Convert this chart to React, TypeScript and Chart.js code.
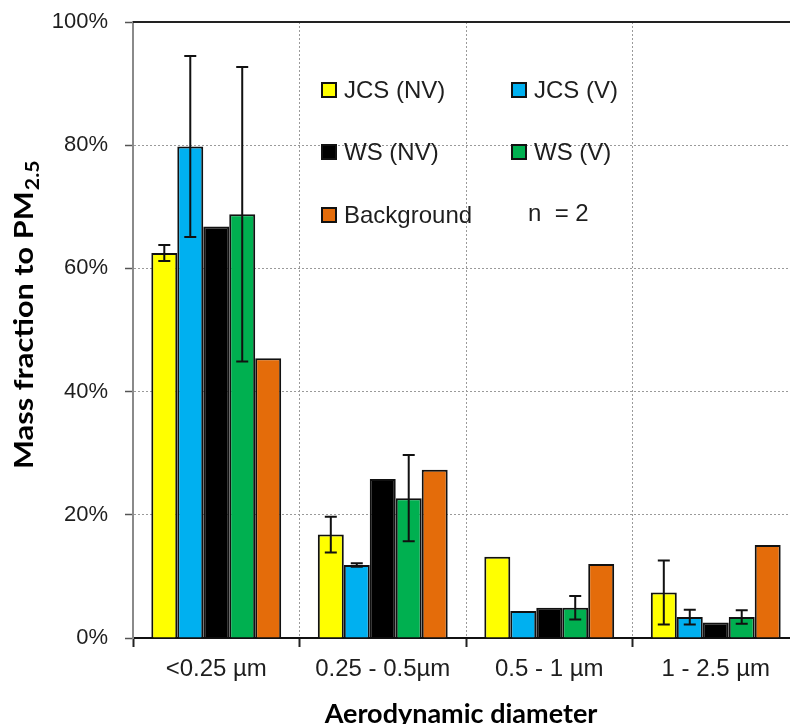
import React, { useEffect, useRef } from 'react';
import { Chart, registerables } from 'chart.js';

Chart.register(...registerables);

// Size classes on the x axis
const categories = ['<0.25 µm', '0.25 - 0.5µm', '0.5 - 1 µm', '1 - 2.5 µm'];

// Mass fraction (%) per site, with ± error where measured
const jcsNV = [62.5, 16.8, 13.2, 7.4];
const jcsNVErr = [1.3, 2.9, 0, 5.2];
const jcsV = [79.8, 11.85, 4.4, 3.4];
const jcsVErr = [14.7, 0.3, 0, 1.2];
const wsNV = [66.8, 25.8, 4.9, 2.5];
const wsNVErr = [0, 0, 0, 0];
const wsV = [68.8, 22.7, 4.9, 3.4];
const wsVErr = [23.9, 7.0, 1.9, 1.1];
const background = [45.4, 27.3, 12.0, 15.1];
const backgroundErr = [0, 0, 0, 0];

const seriesNames = ['JCS (NV)', 'JCS (V)', 'WS (NV)', 'WS (V)', 'Background'];
const seriesColors = ['#FFFF00', '#00B0F0', '#000000', '#00B050', '#E46C0A'];
const seriesValues = [jcsNV, jcsV, wsNV, wsV, background];
const seriesErrors = [jcsNVErr, jcsVErr, wsNVErr, wsVErr, backgroundErr];

const sampleNote = 'n  = 2';
const yTitleMain = 'Mass fraction to PM';
const yTitleSub = '2.5';
const xTitle = 'Aerodynamic diameter';

const TEXT = '#1e1e1e';
const SANS = '"Liberation Sans", Arial, sans-serif';
const TITLE_FONT = 'Lato, "Open Sans", sans-serif';

// Whiskers drawn on top of each bar from its value ± error
const errorBars = {
  id: 'errorBars',
  afterDatasetsDraw(chart: any) {
    const { ctx } = chart;
    const y = chart.scales.y;
    chart.data.datasets.forEach((ds: any, i: number) => {
      const meta = chart.getDatasetMeta(i);
      const errs: number[] = ds.errors || [];
      meta.data.forEach((bar: any, j: number) => {
        const e = errs[j];
        if (!e) return;
        const v = ds.data[j];
        const top = y.getPixelForValue(v + e);
        const bot = y.getPixelForValue(v - e);
        const x = bar.x;
        ctx.save();
        ctx.strokeStyle = '#111';
        ctx.lineWidth = 2;
        ctx.beginPath();
        ctx.moveTo(x, top);
        ctx.lineTo(x, bot);
        ctx.moveTo(x - 6, top);
        ctx.lineTo(x + 6, top);
        ctx.moveTo(x - 6, bot);
        ctx.lineTo(x + 6, bot);
        ctx.stroke();
        ctx.restore();
      });
    });
  },
};

// Frame line, in-plot legend, note and axis titles
const decorations = {
  id: 'decorations',
  afterDraw(chart: any) {
    const { ctx, chartArea } = chart;
    ctx.save();

    // top frame line
    ctx.strokeStyle = '#222';
    ctx.lineWidth = 2;
    ctx.beginPath();
    ctx.moveTo(chartArea.left, chartArea.top);
    ctx.lineTo(chartArea.right, chartArea.top);
    ctx.stroke();

    // legend in two columns
    const cells = [
      [322, 90],
      [512, 90],
      [322, 152],
      [512, 152],
      [322, 215],
    ];
    ctx.font = `24px ${SANS}`;
    ctx.textBaseline = 'middle';
    ctx.textAlign = 'left';
    chart.data.datasets.forEach((ds: any, i: number) => {
      const [bx, by] = cells[i];
      ctx.fillStyle = ds.backgroundColor;
      ctx.fillRect(bx, by - 7, 14, 14);
      ctx.strokeStyle = '#111';
      ctx.lineWidth = 2;
      ctx.strokeRect(bx, by - 7, 14, 14);
      ctx.fillStyle = TEXT;
      ctx.fillText(ds.label, bx + 22, by + 1);
    });
    ctx.fillText(sampleNote, 528, 214);

    // y title with subscript, slightly stretched along its length
    ctx.fillStyle = '#000';
    ctx.translate(33, 469);
    ctx.rotate(-Math.PI / 2);
    ctx.scale(1.18, 1);
    ctx.textBaseline = 'alphabetic';
    ctx.font = `bold 26px ${TITLE_FONT}`;
    ctx.fillText(yTitleMain, 0, 0);
    const w = ctx.measureText(yTitleMain).width;
    ctx.font = `bold 18px ${TITLE_FONT}`;
    ctx.fillText(yTitleSub, w + 1, 6);
    ctx.setTransform(1, 0, 0, 1, 0, 0);

    // x title
    ctx.font = `bold 27px ${TITLE_FONT}`;
    ctx.textAlign = 'center';
    ctx.fillText(xTitle, 461, 723);
    ctx.restore();
  },
};

export default function App() {
  const ref = useRef<HTMLCanvasElement | null>(null);

  useEffect(() => {
    if (!ref.current) return;
    const chart = new Chart(ref.current, {
      type: 'bar',
      data: {
        labels: categories,
        datasets: seriesNames.map((name, i) => ({
          label: name,
          data: seriesValues[i],
          errors: seriesErrors[i],
          backgroundColor: seriesColors[i],
          borderColor: '#111',
          borderWidth: 2,
          barPercentage: 1.0,
          categoryPercentage: 0.78,
        })) as any,
      },
      options: {
        responsive: false,
        animation: false,
        layout: { padding: { top: 22, right: 13, bottom: 0, left: 0 } },
        plugins: {
          legend: { display: false },
          tooltip: { enabled: false },
        },
        scales: {
          x: {
            grid: {
              color: '#9a9a9a',
              lineWidth: 1,
              tickLength: 9,
              tickColor: '#222',
              tickWidth: 2,
            },
            border: { display: true, color: '#111', width: 2, dash: [2, 2] },
            ticks: {
              color: TEXT,
              font: { family: SANS, size: 24 },
              padding: 8,
              maxRotation: 0,
            },
            afterFit: (s: any) => {
              s.height = 102;
            },
          },
          y: {
            min: 0,
            max: 100,
            grid: {
              color: '#9a9a9a',
              lineWidth: 1,
              tickLength: 8,
              tickColor: '#555',
              tickWidth: 1.5,
            },
            border: { display: true, color: '#8a8a8a', width: 2, dash: [2, 2] },
            ticks: {
              stepSize: 20,
              color: TEXT,
              font: { family: SANS, size: 22 },
              padding: 17,
              callback: (v: any) => `${v}%`,
            },
            afterFit: (s: any) => {
              s.width = 133;
              s.paddingTop = 0;
              s.paddingBottom = 0;
            },
          },
        },
      },
      plugins: [errorBars, decorations],
    });
    return () => chart.destroy();
  }, []);

  return (
    <div
      style={{
        position: 'fixed',
        left: 0,
        top: 0,
        width: 790,
        height: 724,
        overflow: 'hidden',
        background: '#fff',
      }}
    >
      <canvas ref={ref} width={812} height={740} style={{ display: 'block' }} />
    </div>
  );
}
